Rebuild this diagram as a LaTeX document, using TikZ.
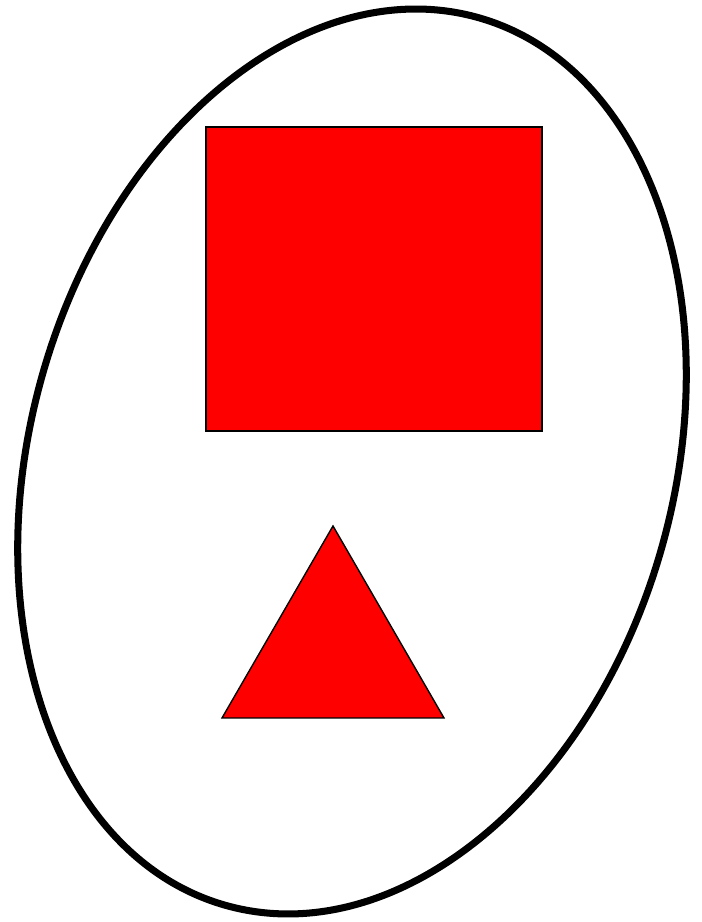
\documentclass[tikz,border=0pt]{standalone}
\usepackage{tikz}
\usepackage{xcolor}
\usetikzlibrary{calc,positioning}
\definecolor{shapeRed}{RGB}{255,0,0}
\tikzset{
  redshape/.style={fill=shapeRed,draw=black,line width=.8pt},
  outline/.style={draw=black,line width=4pt}
}

\begin{document}
\begin{tikzpicture}
\useasboundingbox (0,0) rectangle (14.04,18.44);
\draw[outline,rotate around={-16:(7.04,9.21)}] (7.04,9.21) ellipse [x radius=6.43cm,y radius=9.23cm];
\filldraw[redshape] (4.12,9.82) rectangle (10.84,15.90);
\coordinate (apex) at (6.66,7.92);
\coordinate (baseL) at (4.44,4.08);
\coordinate (baseR) at (8.88,4.08);
\filldraw[redshape] (apex) -- (baseR) -- (baseL) -- cycle;
\end{tikzpicture}
\end{document}
